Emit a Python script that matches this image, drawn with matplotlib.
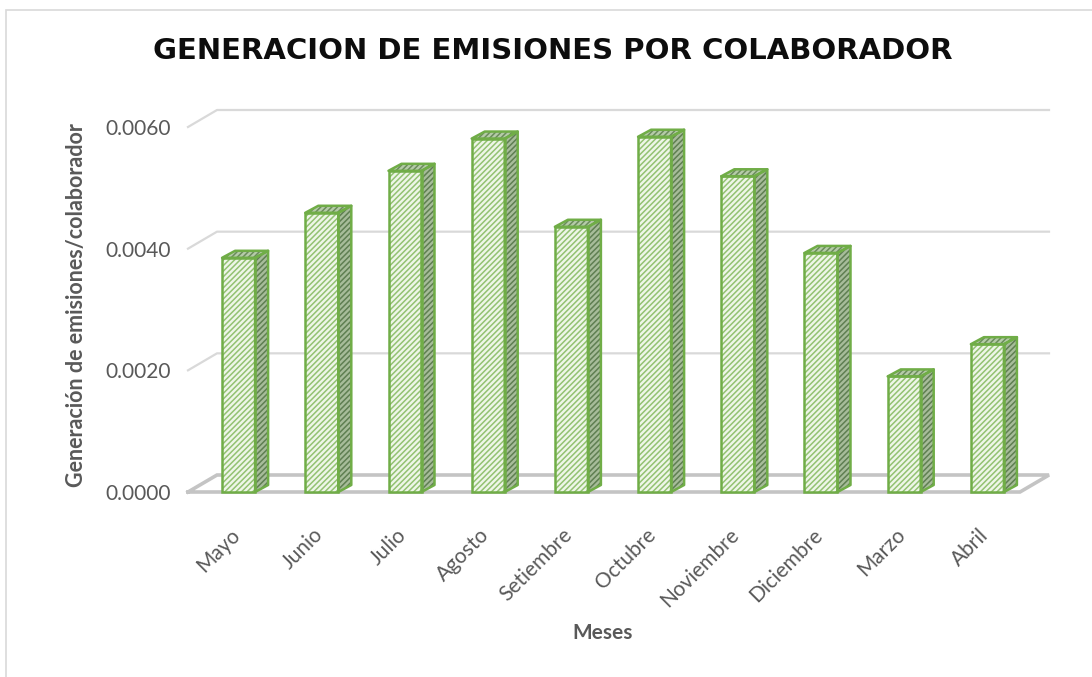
import matplotlib
matplotlib.use("Agg")
import matplotlib.pyplot as plt
from matplotlib.patches import Polygon, Rectangle
from matplotlib.lines import Line2D

plt.rcParams['font.family'] = ['Lato', 'DejaVu Sans']
plt.rcParams['hatch.linewidth'] = 1.1

# ---------------- data ----------------
months = ["Mayo", "Junio", "Julio", "Agosto", "Setiembre", "Octubre",
          "Noviembre", "Diciembre", "Marzo", "Abril"]
values = [0.00385, 0.00459, 0.00528, 0.00581, 0.00436, 0.00584,
          0.00519, 0.00393, 0.00190, 0.00243]
yticks = [0.0, 0.002, 0.004, 0.006]
ytick_labels = ["0.0000", "0.0020", "0.0040", "0.0060"]
title = "GENERACION DE EMISIONES POR COLABORADOR"
xlabel = "Meses"
ylabel = "Generación de emisiones/colaborador"

# ---------------- layout ----------------
W, H = 1092, 677
fig = plt.figure(figsize=(W / 100, H / 100), dpi=100)
fig.patch.set_facecolor("white")

# pixel anchors: x=-0.5 -> 188px, x=9.5 -> 1020px ; y=0 -> 492px, y=0.006 -> 127px
px_per_x = (1020 - 188) / 10.0
px_per_y = (492 - 127) / 0.006
x0_px = 188 + 0.5 * px_per_x
xlim = (-0.6, 10.0)
ylim = (-0.0004, 0.0066)
left_px = x0_px + xlim[0] * px_per_x
right_px = x0_px + xlim[1] * px_per_x
bottom_px = 492 - ylim[0] * px_per_y
top_px = 492 - ylim[1] * px_per_y
ax = fig.add_axes([left_px / W, 1 - bottom_px / H,
                   (right_px - left_px) / W, (bottom_px - top_px) / H])
ax.set_xlim(*xlim)
ax.set_ylim(*ylim)
for s in ax.spines.values():
    s.set_visible(False)
ax.set_facecolor("none")

# depth of the 3D box
dx = 29 / px_per_x
dy = 17 / px_per_y
n = len(months)
xa, xb = -0.5, n - 0.5

# gridlines on back wall + side stubs
for v in yticks[1:]:
    ax.add_line(Line2D([xa, xa + dx, xb + dx], [v, v + dy, v + dy],
                       color="#D9D9D9", lw=1.6, zorder=1))
# floor
ax.add_line(Line2D([xa, xb, xb + dx, xa + dx, xa],
                   [0, 0, dy, dy, 0], color="#C4C4C4", lw=2.6,
                   zorder=1, solid_joinstyle="miter"))

# bars
xoff = 9 / px_per_x
bw = 33 / px_per_x
bdx = 13 / px_per_x
bdy = 7 / px_per_y
xs = [i + xoff for i in range(n)]
edge = "#70AD47"

ax.bar(xs, values, width=bw, facecolor="#EEF6E8", edgecolor="#93C272",
       hatch="//////", linewidth=0, zorder=3)
ax.bar(xs, values, width=bw, fill=False, edgecolor=edge, linewidth=1.8,
       zorder=4)
for x, v in zip(xs, values):
    xr = x + bw / 2
    xl = x - bw / 2
    side = [(xr, 0), (xr + bdx, bdy), (xr + bdx, v + bdy), (xr, v)]
    top = [(xl, v), (xr, v), (xr + bdx, v + bdy), (xl + bdx, v + bdy)]
    for poly, fc, hc in ((side, "#A7BC9A", "#5F7F52"),
                         (top, "#B5CBA8", "#6B8C5C")):
        ax.add_patch(Polygon(poly, closed=True, facecolor=fc, edgecolor=hc,
                             hatch="//////", lw=0, zorder=3))
        ax.add_patch(Polygon(poly, closed=True, fill=False, edgecolor=edge,
                             lw=1.8, zorder=4, joinstyle="round"))

# ticks
ax.set_yticks(yticks)
ax.set_yticklabels(ytick_labels, fontsize=15, color="#595959")
ax.tick_params(axis="y", length=0, pad=6)
ax.set_xticks(list(range(n)))
ax.set_xticklabels(months, rotation=45, ha="right", va="top",
                   rotation_mode="anchor", fontsize=15, color="#595959")
ax.tick_params(axis="x", length=0, pad=6)

# labels and title
fig.text(603 / W, 1 - 633 / H, xlabel, ha="center", va="center",
         fontsize=15, fontweight="bold", color="#595959")
fig.text(77 / W, 1 - 305 / H, ylabel, ha="center", va="center",
         rotation=90, fontsize=15.5, fontweight="bold", color="#595959")
fig.text(553 / W, 1 - 51 / H, title, ha="center", va="center",
         fontsize=21, fontweight="heavy", color="#0D0D0D",
         family=["DejaVu Sans"])

# chart border
fig.add_artist(Rectangle((6 / W, -0.01), 1.2, 1 - 10 / H + 0.01,
                         transform=fig.transFigure, fill=False,
                         edgecolor="#D9D9D9", lw=1.2))

fig.savefig("out.png", dpi=100, facecolor="white")
